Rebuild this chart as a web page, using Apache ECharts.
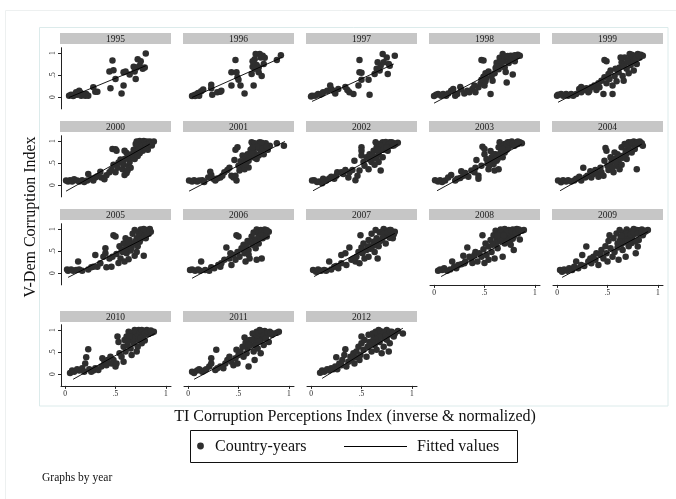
<!DOCTYPE html>
<html>
<head>
<meta charset="utf-8">
<script src="https://cdn.jsdelivr.net/npm/echarts@6/dist/echarts.min.js"></script>
<style>
  html, body { margin: 0; padding: 0; background: #ffffff; }
  #main { width: 676px; height: 499px; }
</style>
</head>
<body>
<div id="main"></div>
<script>
// Panel years, laid out five per row
const years = ['1995','1996','1997','1998','1999','2000','2001','2002','2003','2004',
               '2005','2006','2007','2008','2009','2010','2011','2012'];

// Axis ticks shared by every panel
const tickValues = [0, 0.5, 1];
const tickText = ['0', '.5', '1'];

// Country-years: [TI CPI (inverse & normalized), V-Dem corruption index]
const cy1995 = [[0.04,0.03],[0.06,0.05],[0.08,0.02],[0.09,0.04],[0.10,0.07],[0.11,0.11],[0.12,0.05],[0.13,0.08],[0.14,0.14],[0.15,0.10],[0.16,0.03],[0.18,0.07],[0.20,0.03],[0.21,0.07],[0.23,0.03],[0.28,0.22],[0.30,0.12],[0.32,0.12],[0.45,0.20],[0.44,0.58],[0.48,0.61],[0.47,0.83],[0.50,0.41],[0.56,0.08],[0.58,0.26],[0.58,0.56],[0.60,0.58],[0.64,0.51],[0.69,0.58],[0.70,0.41],[0.71,0.67],[0.72,0.86],[0.74,0.71],[0.75,0.81],[0.77,0.64],[0.79,0.67],[0.80,0.99],[0.68,0.69]];
const cy1996 = [[0.04,0.02],[0.05,0.03],[0.07,0.05],[0.09,0.07],[0.10,0.09],[0.13,0.13],[0.15,0.17],[0.07,0.02],[0.11,0.03],[0.23,0.28],[0.23,0.20],[0.24,0.05],[0.29,0.11],[0.32,0.12],[0.33,0.14],[0.43,0.26],[0.43,0.56],[0.47,0.84],[0.48,0.56],[0.49,0.45],[0.50,0.39],[0.52,0.26],[0.56,0.08],[0.63,0.52],[0.64,0.69],[0.65,0.26],[0.66,0.86],[0.67,0.98],[0.68,0.73],[0.70,0.67],[0.70,0.56],[0.71,0.98],[0.72,0.90],[0.73,0.48],[0.74,0.94],[0.75,0.75],[0.76,0.89],[0.88,0.84],[0.92,0.95],[0.66,0.64],[0.64,0.81]];
const cy1997 = [[0.00,0.01],[0.01,0.03],[0.04,0.03],[0.07,0.07],[0.09,0.05],[0.11,0.08],[0.12,0.11],[0.16,0.14],[0.19,0.26],[0.20,0.18],[0.22,0.14],[0.24,0.08],[0.27,0.18],[0.34,0.23],[0.36,0.16],[0.38,0.11],[0.42,0.07],[0.47,0.26],[0.48,0.56],[0.48,0.84],[0.50,0.39],[0.50,0.55],[0.57,0.39],[0.58,0.05],[0.63,0.52],[0.65,0.64],[0.66,0.79],[0.68,0.60],[0.69,0.71],[0.71,0.98],[0.72,0.79],[0.75,0.90],[0.76,0.52],[0.78,0.71],[0.83,0.94],[0.77,0.75]];
const cy1998 = [[0.00,0.02],[0.02,0.05],[0.04,0.07],[0.07,0.03],[0.09,0.07],[0.12,0.03],[0.14,0.08],[0.17,0.14],[0.19,0.18],[0.21,0.03],[0.23,0.07],[0.26,0.23],[0.27,0.17],[0.30,0.08],[0.33,0.14],[0.35,0.11],[0.38,0.18],[0.40,0.26],[0.41,0.11],[0.44,0.22],[0.46,0.30],[0.47,0.39],[0.47,0.84],[0.49,0.83],[0.49,0.46],[0.50,0.26],[0.51,0.36],[0.52,0.43],[0.51,0.54],[0.54,0.58],[0.56,0.07],[0.57,0.48],[0.58,0.37],[0.60,0.54],[0.61,0.66],[0.62,0.78],[0.64,0.63],[0.65,0.89],[0.66,0.71],[0.68,0.98],[0.69,0.81],[0.70,0.67],[0.71,0.57],[0.72,0.33],[0.74,0.77],[0.75,0.86],[0.76,0.94],[0.78,0.51],[0.79,0.89],[0.80,0.81],[0.82,0.92],[0.83,0.96],[0.85,0.94],[0.72,0.90],[0.70,0.92],[0.73,0.93],[0.77,0.88],[0.80,0.95],[0.67,0.80],[0.62,0.70]];
const cy1999 = [[0.00,0.03],[0.01,0.05],[0.04,0.07],[0.06,0.03],[0.09,0.07],[0.11,0.03],[0.14,0.07],[0.16,0.03],[0.19,0.07],[0.22,0.18],[0.24,0.23],[0.24,0.11],[0.27,0.16],[0.29,0.20],[0.31,0.11],[0.32,0.14],[0.34,0.22],[0.37,0.26],[0.39,0.16],[0.41,0.31],[0.42,0.22],[0.44,0.37],[0.46,0.07],[0.47,0.84],[0.49,0.81],[0.47,0.45],[0.49,0.31],[0.51,0.52],[0.52,0.41],[0.53,0.60],[0.55,0.26],[0.55,0.07],[0.57,0.48],[0.58,0.64],[0.59,0.36],[0.61,0.56],[0.62,0.67],[0.64,0.79],[0.65,0.48],[0.66,0.37],[0.67,0.90],[0.67,0.75],[0.69,0.64],[0.71,0.86],[0.71,0.54],[0.72,0.98],[0.73,0.73],[0.75,0.90],[0.76,0.81],[0.77,0.94],[0.79,0.75],[0.80,0.98],[0.82,0.90],[0.83,0.96],[0.85,0.94],[0.76,0.60],[0.63,0.90],[0.74,0.96],[0.78,0.88],[0.81,0.94],[0.70,0.80],[0.66,0.70],[0.60,0.62]];
const cy2000 = [[0.01,0.10],[0.03,0.08],[0.05,0.11],[0.07,0.08],[0.09,0.13],[0.12,0.10],[0.14,0.08],[0.17,0.11],[0.19,0.07],[0.22,0.10],[0.23,0.25],[0.26,0.15],[0.28,0.10],[0.30,0.17],[0.32,0.20],[0.35,0.30],[0.36,0.17],[0.39,0.13],[0.41,0.22],[0.44,0.29],[0.46,0.34],[0.47,0.82],[0.50,0.81],[0.51,0.78],[0.48,0.46],[0.50,0.29],[0.52,0.39],[0.53,0.51],[0.55,0.58],[0.56,0.55],[0.57,0.36],[0.58,0.46],[0.59,0.59],[0.61,0.27],[0.59,0.23],[0.63,0.43],[0.64,0.52],[0.59,0.78],[0.61,0.73],[0.66,0.63],[0.67,0.69],[0.69,0.59],[0.70,0.93],[0.71,0.99],[0.73,0.96],[0.74,1.00],[0.75,0.92],[0.77,0.96],[0.78,1.00],[0.79,0.96],[0.81,0.99],[0.83,0.95],[0.84,0.99],[0.86,0.97],[0.88,0.99],[0.82,0.80],[0.77,0.78],[0.74,0.72],[0.72,0.66],[0.71,0.86],[0.74,0.84],[0.78,0.89],[0.68,0.80],[0.65,0.39],[0.62,0.33],[0.72,0.90],[0.76,0.88],[0.80,0.91],[0.84,0.93],[0.86,0.90],[0.80,0.85],[0.70,0.76],[0.73,0.80],[0.66,0.70],[0.62,0.60],[0.57,0.50]];
const cy2001 = [[0.01,0.10],[0.04,0.08],[0.06,0.11],[0.09,0.08],[0.11,0.10],[0.14,0.11],[0.16,0.07],[0.20,0.17],[0.23,0.23],[0.22,0.30],[0.25,0.14],[0.27,0.10],[0.29,0.15],[0.32,0.17],[0.34,0.21],[0.36,0.29],[0.39,0.34],[0.41,0.39],[0.43,0.21],[0.45,0.17],[0.47,0.21],[0.46,0.57],[0.47,0.80],[0.49,0.86],[0.48,0.10],[0.50,0.44],[0.51,0.33],[0.52,0.54],[0.54,0.67],[0.55,0.44],[0.56,0.59],[0.58,0.52],[0.59,0.70],[0.60,0.40],[0.61,0.63],[0.62,0.80],[0.63,0.97],[0.65,0.78],[0.66,0.89],[0.67,0.70],[0.68,0.93],[0.70,0.84],[0.71,0.97],[0.72,0.78],[0.74,0.92],[0.75,0.70],[0.76,0.86],[0.77,0.95],[0.79,0.80],[0.81,0.89],[0.88,0.95],[0.95,0.89],[0.68,0.59],[0.70,0.67],[0.56,0.36],[0.66,0.95],[0.69,0.88],[0.73,0.96],[0.74,0.83],[0.78,0.88],[0.64,0.86],[0.63,0.72],[0.66,0.62],[0.60,0.55],[0.57,0.46]];
const cy2002 = [[0.01,0.10],[0.03,0.11],[0.06,0.07],[0.08,0.08],[0.11,0.04],[0.12,0.14],[0.15,0.10],[0.18,0.15],[0.20,0.19],[0.23,0.14],[0.25,0.21],[0.26,0.29],[0.30,0.29],[0.32,0.25],[0.34,0.34],[0.37,0.17],[0.38,0.29],[0.41,0.34],[0.43,0.55],[0.44,0.11],[0.46,0.21],[0.48,0.33],[0.50,0.86],[0.50,0.78],[0.50,0.67],[0.52,0.52],[0.53,0.44],[0.55,0.63],[0.57,0.36],[0.58,0.70],[0.60,0.52],[0.62,0.78],[0.63,0.63],[0.64,0.97],[0.65,0.86],[0.67,0.70],[0.68,0.93],[0.69,0.33],[0.69,0.80],[0.71,0.97],[0.73,0.86],[0.75,0.95],[0.76,0.78],[0.78,0.97],[0.80,0.89],[0.82,0.95],[0.84,0.93],[0.86,0.96],[0.71,0.63],[0.67,0.52],[0.63,0.46],[0.70,0.90],[0.74,0.98],[0.77,0.92],[0.80,0.97],[0.82,0.90],[0.72,0.80],[0.75,0.85],[0.66,0.80],[0.61,0.68],[0.58,0.58],[0.65,0.60]];
const cy2003 = [[0.01,0.11],[0.04,0.08],[0.06,0.11],[0.08,0.07],[0.11,0.10],[0.14,0.17],[0.17,0.23],[0.21,0.10],[0.23,0.14],[0.26,0.16],[0.27,0.31],[0.29,0.21],[0.31,0.27],[0.34,0.19],[0.37,0.33],[0.40,0.29],[0.41,0.39],[0.44,0.14],[0.44,0.21],[0.42,0.57],[0.47,0.44],[0.48,0.87],[0.50,0.82],[0.50,0.70],[0.52,0.59],[0.53,0.49],[0.54,0.36],[0.56,0.77],[0.57,0.63],[0.59,0.48],[0.60,0.33],[0.61,0.70],[0.62,0.55],[0.64,0.36],[0.64,0.86],[0.65,0.97],[0.66,0.74],[0.68,0.63],[0.69,0.89],[0.70,0.93],[0.72,0.80],[0.73,0.97],[0.74,0.86],[0.76,0.93],[0.77,0.99],[0.79,0.89],[0.80,0.95],[0.82,0.97],[0.83,0.93],[0.85,0.97],[0.87,0.95],[0.70,0.74],[0.63,0.59],[0.59,0.70],[0.72,0.92],[0.75,0.97],[0.78,0.95],[0.80,0.90],[0.83,0.99],[0.68,0.82],[0.67,0.68],[0.63,0.66],[0.61,0.60],[0.57,0.56],[0.55,0.45]];
const cy2004 = [[0.01,0.10],[0.04,0.06],[0.06,0.11],[0.09,0.08],[0.11,0.11],[0.14,0.08],[0.17,0.10],[0.19,0.14],[0.22,0.19],[0.24,0.10],[0.26,0.39],[0.28,0.17],[0.30,0.21],[0.33,0.31],[0.34,0.17],[0.36,0.25],[0.38,0.34],[0.39,0.27],[0.41,0.19],[0.43,0.39],[0.44,0.29],[0.46,0.21],[0.47,0.55],[0.48,0.84],[0.49,0.78],[0.50,0.44],[0.51,0.34],[0.53,0.63],[0.54,0.52],[0.56,0.29],[0.57,0.74],[0.57,0.59],[0.59,0.44],[0.60,0.70],[0.61,0.54],[0.62,0.36],[0.64,0.86],[0.66,0.67],[0.67,0.93],[0.68,0.78],[0.69,0.59],[0.71,0.97],[0.71,0.84],[0.73,0.93],[0.74,0.74],[0.76,0.99],[0.77,0.89],[0.79,0.97],[0.81,0.93],[0.82,0.99],[0.84,0.95],[0.85,0.89],[0.79,0.36],[0.64,0.46],[0.70,0.90],[0.74,0.97],[0.78,0.93],[0.80,0.98],[0.72,0.78],[0.69,0.72],[0.65,0.62],[0.62,0.66],[0.58,0.52],[0.55,0.40],[0.77,0.82]];
const cy2005 = [[0.02,0.08],[0.03,0.05],[0.06,0.08],[0.08,0.05],[0.11,0.07],[0.13,0.26],[0.14,0.08],[0.17,0.05],[0.23,0.08],[0.26,0.13],[0.28,0.14],[0.30,0.41],[0.32,0.14],[0.35,0.22],[0.38,0.37],[0.40,0.45],[0.40,0.56],[0.41,0.13],[0.44,0.33],[0.46,0.14],[0.47,0.37],[0.48,0.86],[0.50,0.83],[0.51,0.43],[0.53,0.23],[0.54,0.61],[0.55,0.33],[0.56,0.52],[0.58,0.67],[0.59,0.26],[0.60,0.79],[0.61,0.45],[0.62,0.61],[0.63,0.31],[0.64,0.75],[0.65,0.51],[0.67,0.89],[0.68,0.67],[0.69,0.39],[0.69,0.98],[0.71,0.79],[0.72,0.61],[0.73,0.92],[0.74,0.71],[0.75,0.99],[0.77,0.82],[0.78,0.39],[0.79,0.94],[0.80,0.79],[0.81,0.98],[0.83,0.89],[0.84,1.00],[0.85,0.94],[0.71,0.48],[0.66,0.58],[0.76,0.90],[0.79,0.86],[0.82,0.94],[0.73,0.82],[0.70,0.72],[0.66,0.66],[0.63,0.70],[0.60,0.55],[0.57,0.48],[0.75,0.77],[0.81,0.92],[0.78,1.00]];
const cy2006 = [[0.02,0.07],[0.04,0.08],[0.07,0.05],[0.10,0.08],[0.12,0.05],[0.13,0.26],[0.17,0.07],[0.21,0.05],[0.23,0.13],[0.26,0.11],[0.30,0.18],[0.32,0.14],[0.33,0.22],[0.36,0.30],[0.38,0.58],[0.41,0.33],[0.42,0.45],[0.43,0.18],[0.45,0.41],[0.47,0.30],[0.48,0.86],[0.49,0.48],[0.50,0.83],[0.51,0.37],[0.53,0.56],[0.55,0.64],[0.56,0.45],[0.57,0.26],[0.59,0.73],[0.60,0.52],[0.61,0.33],[0.63,0.83],[0.64,0.64],[0.65,0.92],[0.66,0.75],[0.67,0.56],[0.68,0.99],[0.70,0.86],[0.70,0.67],[0.72,0.98],[0.74,0.79],[0.74,0.89],[0.76,0.99],[0.78,0.83],[0.80,0.94],[0.73,0.33],[0.68,0.30],[0.70,0.93],[0.73,0.95],[0.76,0.92],[0.78,0.97],[0.72,0.86],[0.69,0.78],[0.66,0.72],[0.62,0.70],[0.58,0.60],[0.55,0.52],[0.60,0.42]];
const cy2007 = [[0.02,0.07],[0.05,0.03],[0.07,0.08],[0.10,0.05],[0.13,0.07],[0.15,0.05],[0.18,0.26],[0.20,0.08],[0.23,0.14],[0.25,0.16],[0.27,0.11],[0.30,0.41],[0.30,0.22],[0.34,0.45],[0.35,0.18],[0.38,0.58],[0.40,0.30],[0.42,0.33],[0.44,0.26],[0.45,0.37],[0.47,0.48],[0.48,0.22],[0.49,0.86],[0.50,0.58],[0.51,0.45],[0.52,0.67],[0.53,0.33],[0.55,0.52],[0.57,0.75],[0.57,0.37],[0.58,0.61],[0.60,0.89],[0.62,0.71],[0.63,0.48],[0.64,0.98],[0.65,0.79],[0.66,0.33],[0.67,0.61],[0.68,0.92],[0.70,0.75],[0.72,1.00],[0.73,0.86],[0.74,0.67],[0.75,0.96],[0.77,0.83],[0.78,0.98],[0.80,0.89],[0.81,0.79],[0.83,0.94],[0.70,0.94],[0.72,0.90],[0.76,0.92],[0.79,0.98],[0.71,0.80],[0.68,0.72],[0.64,0.70],[0.62,0.62],[0.59,0.55],[0.56,0.60],[0.78,0.80],[0.82,0.88]];
const cy2008 = [[0.04,0.05],[0.06,0.08],[0.08,0.07],[0.10,0.11],[0.13,0.05],[0.16,0.08],[0.18,0.26],[0.20,0.14],[0.22,0.11],[0.24,0.18],[0.27,0.20],[0.29,0.39],[0.30,0.22],[0.31,0.26],[0.33,0.58],[0.35,0.37],[0.37,0.33],[0.38,0.23],[0.40,0.41],[0.41,0.48],[0.43,0.26],[0.45,0.45],[0.47,0.37],[0.48,0.86],[0.49,0.54],[0.50,0.23],[0.51,0.67],[0.52,0.41],[0.54,0.60],[0.54,0.30],[0.56,0.75],[0.57,0.48],[0.59,0.86],[0.60,0.33],[0.60,0.67],[0.61,0.96],[0.62,0.79],[0.63,0.56],[0.64,0.90],[0.65,0.73],[0.66,0.99],[0.67,0.83],[0.68,0.37],[0.69,0.94],[0.70,0.67],[0.70,1.00],[0.72,0.86],[0.73,0.76],[0.74,0.98],[0.75,0.90],[0.76,0.64],[0.78,0.99],[0.79,0.83],[0.80,0.94],[0.82,1.00],[0.83,0.90],[0.85,0.76],[0.87,0.96],[0.89,0.98],[0.79,0.52],[0.68,0.90],[0.71,0.93],[0.76,0.96],[0.80,0.98],[0.77,0.90],[0.74,0.82],[0.71,0.78],[0.68,0.80],[0.65,0.84],[0.62,0.70],[0.58,0.64],[0.84,0.95],[0.66,0.92],[0.70,0.88],[0.73,0.93],[0.77,0.95],[0.81,0.92],[0.84,0.99],[0.72,0.70],[0.75,0.74],[0.78,0.78],[0.66,0.77],[0.63,0.86],[0.69,0.85]];
const cy2009 = [[0.03,0.07],[0.05,0.03],[0.07,0.08],[0.10,0.05],[0.12,0.11],[0.15,0.07],[0.17,0.14],[0.19,0.26],[0.21,0.11],[0.24,0.18],[0.25,0.41],[0.27,0.16],[0.29,0.60],[0.31,0.26],[0.33,0.33],[0.34,0.22],[0.36,0.37],[0.38,0.30],[0.39,0.45],[0.41,0.18],[0.43,0.41],[0.44,0.52],[0.46,0.33],[0.48,0.61],[0.49,0.45],[0.50,0.26],[0.51,0.73],[0.52,0.86],[0.53,0.56],[0.55,0.37],[0.56,0.79],[0.57,0.48],[0.59,0.90],[0.60,0.67],[0.61,0.30],[0.62,0.98],[0.63,0.79],[0.65,0.52],[0.66,0.92],[0.67,0.73],[0.68,0.37],[0.69,0.99],[0.70,0.83],[0.71,0.61],[0.72,0.94],[0.74,0.79],[0.76,1.00],[0.77,0.89],[0.78,0.45],[0.79,0.98],[0.81,0.75],[0.82,0.94],[0.84,0.99],[0.85,0.86],[0.87,0.96],[0.90,0.98],[0.80,0.60],[0.67,0.86],[0.71,0.92],[0.74,0.95],[0.78,0.93],[0.81,0.97],[0.75,0.85],[0.72,0.78],[0.68,0.70],[0.64,0.66],[0.60,0.58],[0.83,0.90],[0.86,0.92],[0.66,0.80],[0.69,0.90],[0.73,0.88],[0.76,0.92],[0.80,0.90],[0.84,0.93],[0.70,0.72],[0.74,0.68],[0.78,0.72],[0.64,0.84],[0.62,0.72],[0.88,0.95]];
const cy2010 = [[0.05,0.02],[0.07,0.08],[0.09,0.05],[0.12,0.11],[0.14,0.08],[0.17,0.13],[0.19,0.05],[0.20,0.24],[0.21,0.38],[0.23,0.56],[0.24,0.11],[0.26,0.05],[0.28,0.08],[0.30,0.13],[0.33,0.09],[0.36,0.17],[0.37,0.36],[0.39,0.28],[0.41,0.20],[0.42,0.32],[0.45,0.39],[0.46,0.24],[0.48,0.32],[0.50,0.17],[0.51,0.24],[0.52,0.85],[0.53,0.73],[0.54,0.47],[0.56,0.39],[0.58,0.28],[0.58,0.62],[0.59,0.77],[0.60,0.51],[0.61,0.85],[0.62,0.66],[0.63,0.96],[0.64,0.77],[0.65,0.58],[0.67,0.89],[0.68,0.70],[0.69,1.00],[0.69,0.81],[0.71,0.92],[0.72,0.62],[0.73,1.00],[0.73,0.77],[0.74,0.89],[0.75,0.96],[0.76,0.70],[0.77,0.85],[0.78,0.98],[0.79,0.89],[0.80,0.94],[0.81,1.00],[0.83,0.91],[0.84,0.96],[0.86,0.94],[0.88,0.96],[0.79,0.76],[0.71,0.51],[0.66,0.43],[0.66,0.94],[0.70,0.96],[0.74,0.93],[0.76,1.00],[0.79,0.92],[0.82,0.97],[0.70,0.84],[0.67,0.80],[0.64,0.85],[0.62,0.74],[0.75,0.82],[0.85,0.99]];
const cy2011 = [[0.04,0.05],[0.06,0.02],[0.09,0.08],[0.11,0.11],[0.14,0.05],[0.16,0.08],[0.18,0.11],[0.21,0.17],[0.23,0.24],[0.23,0.36],[0.27,0.09],[0.28,0.55],[0.29,0.13],[0.32,0.17],[0.35,0.13],[0.37,0.24],[0.39,0.32],[0.41,0.39],[0.43,0.28],[0.45,0.20],[0.47,0.36],[0.48,0.55],[0.49,0.24],[0.50,0.43],[0.52,0.51],[0.54,0.62],[0.55,0.39],[0.56,0.83],[0.57,0.71],[0.58,0.47],[0.59,0.58],[0.60,0.17],[0.61,0.77],[0.62,0.66],[0.64,0.92],[0.65,0.51],[0.66,0.81],[0.67,0.70],[0.68,0.96],[0.69,0.58],[0.70,0.85],[0.71,1.00],[0.72,0.77],[0.74,0.91],[0.75,0.66],[0.76,0.98],[0.77,0.85],[0.78,0.92],[0.80,0.73],[0.81,0.96],[0.83,0.89],[0.84,0.92],[0.88,0.94],[0.90,0.96],[0.72,0.47],[0.66,0.32],[0.68,0.88],[0.70,0.93],[0.73,0.97],[0.75,0.88],[0.79,0.95],[0.82,0.93],[0.71,0.74],[0.67,0.64],[0.63,0.78],[0.60,0.66],[0.77,0.80]];
const cy2012 = [[0.09,0.03],[0.11,0.08],[0.13,0.05],[0.16,0.11],[0.18,0.08],[0.20,0.13],[0.22,0.11],[0.24,0.17],[0.25,0.38],[0.26,0.11],[0.28,0.24],[0.30,0.20],[0.31,0.32],[0.33,0.43],[0.34,0.56],[0.35,0.17],[0.37,0.28],[0.39,0.39],[0.40,0.32],[0.42,0.47],[0.43,0.24],[0.44,0.38],[0.45,0.51],[0.47,0.62],[0.48,0.32],[0.49,0.43],[0.50,0.85],[0.50,0.70],[0.52,0.55],[0.53,0.77],[0.55,0.39],[0.56,0.62],[0.57,0.89],[0.58,0.73],[0.60,0.51],[0.61,0.92],[0.62,0.81],[0.63,0.66],[0.64,0.96],[0.65,0.55],[0.66,0.85],[0.67,1.00],[0.68,0.73],[0.70,0.91],[0.72,0.62],[0.73,0.96],[0.73,0.81],[0.75,1.00],[0.77,0.89],[0.78,0.70],[0.80,0.96],[0.82,0.85],[0.83,0.92],[0.86,0.98],[0.91,0.92],[0.77,0.51],[0.70,0.47],[0.66,0.93],[0.69,0.97],[0.72,0.93],[0.74,0.88],[0.78,0.96],[0.81,0.93],[0.68,0.84],[0.64,0.78],[0.61,0.72],[0.58,0.66],[0.75,0.78]];

// Fitted values: start and end of each year's regression line
const fit1995 = [[0.04,-0.01],[0.80,0.71]];
const fit1996 = [[0.04,-0.01],[0.93,0.90]];
const fit1997 = [[0.01,-0.10],[0.82,0.75]];
const fit1998 = [[0.00,-0.14],[0.85,0.89]];
const fit1999 = [[0.01,-0.12],[0.84,0.86]];
const fit2000 = [[0.01,-0.14],[0.84,0.93]];
const fit2001 = [[0.01,-0.14],[0.96,0.99]];
const fit2002 = [[0.02,-0.13],[0.86,0.93]];
const fit2003 = [[0.03,-0.13],[0.87,0.93]];
const fit2004 = [[0.03,-0.13],[0.84,0.93]];
const fit2005 = [[0.03,-0.10],[0.85,0.86]];
const fit2006 = [[0.04,-0.12],[0.80,0.83]];
const fit2007 = [[0.03,-0.08],[0.83,0.90]];
const fit2008 = [[0.07,-0.08],[0.90,0.94]];
const fit2009 = [[0.05,-0.10],[0.90,0.94]];
const fit2010 = [[0.08,-0.12],[0.89,0.92]];
const fit2011 = [[0.06,-0.12],[0.89,0.89]];
const fit2012 = [[0.11,-0.10],[0.91,1.04]];

const countryYears = [cy1995, cy1996, cy1997, cy1998, cy1999, cy2000, cy2001, cy2002, cy2003,
  cy2004, cy2005, cy2006, cy2007, cy2008, cy2009, cy2010, cy2011, cy2012];
const fittedLines = [fit1995, fit1996, fit1997, fit1998, fit1999, fit2000, fit2001, fit2002, fit2003,
  fit2004, fit2005, fit2006, fit2007, fit2008, fit2009, fit2010, fit2011, fit2012];

// ---- layout of the 5 x 4 panel grid ----
const SERIF = "'Liberation Serif', 'DejaVu Serif', serif";
const colLeft = 61, colStep = 123, plotW = 110;
const stripTops = [33, 121, 209, 311];
const yOneAt = [53, 141, 229, 330];      // pixel row of y = 1 in each panel row
const pxPerUnitY = 44;
const yMin = -0.27, yMax = 1.12;
const xMin = -0.04, xMax = 1.05;
const markerColor = '#2e2e2e';
// panels that carry an x axis (bottom of each column)
const withXAxis = new Set([13, 14, 15, 16, 17]);

const grids = [], xAxes = [], yAxes = [], series = [], graphics = [];

years.forEach((yr, i) => {
  const row = Math.floor(i / 5), col = i % 5;
  const left = colLeft + col * colStep;
  const top = yOneAt[row] - (yMax - 1) * pxPerUnitY;
  const height = (yMax - yMin) * pxPerUnitY;
  grids.push({ left: left, top: top, width: plotW, height: height, containLabel: false });

  const showX = withXAxis.has(i);
  xAxes.push({
    gridIndex: i, type: 'value', min: xMin, max: xMax, show: showX,
    splitLine: { show: false },
    axisLine: { show: showX, onZero: false, lineStyle: { color: '#222', width: 1 } },
    axisTick: { show: showX, customValues: tickValues, length: 3, lineStyle: { color: '#222' } },
    axisLabel: {
      show: showX, customValues: tickValues, margin: 4,
      fontFamily: SERIF, fontSize: 7.5, color: '#222',
      formatter: v => tickText[tickValues.indexOf(v)] ?? ''
    }
  });

  const showY = col === 0;
  yAxes.push({
    gridIndex: i, type: 'value', min: yMin, max: yMax, show: showY,
    splitLine: { show: false },
    axisLine: { show: showY, onZero: false, lineStyle: { color: '#222', width: 1 } },
    axisTick: { show: showY, customValues: tickValues, length: 3, lineStyle: { color: '#222' } },
    axisLabel: {
      show: showY, customValues: tickValues, rotate: 90, margin: 4,
      fontFamily: SERIF, fontSize: 7.5, color: '#222',
      formatter: v => tickText[tickValues.indexOf(v)] ?? ''
    }
  });

  series.push({
    name: 'Country-years', type: 'scatter', xAxisIndex: i, yAxisIndex: i,
    data: countryYears[i], symbol: 'circle', symbolSize: 6.5,
    itemStyle: { color: markerColor, opacity: 1 }, z: 2
  });
  series.push({
    name: 'Fitted values', type: 'line', xAxisIndex: i, yAxisIndex: i,
    data: fittedLines[i], showSymbol: false, symbol: 'none',
    lineStyle: { color: '#000', width: 0.9 }, z: 3
  });

  // year strip above the panel
  graphics.push({
    type: 'rect', silent: true,
    shape: { x: left - 1, y: stripTops[row], width: 111, height: 11 },
    style: { fill: '#c6c6c6' }
  });
  graphics.push({
    type: 'text', silent: true,
    style: {
      text: yr, x: left - 1 + 55.5, y: stripTops[row] + 6, align: 'center', verticalAlign: 'middle',
      font: '9.5px ' + SERIF, fill: '#222'
    }
  });
});

// outer frame and plot-region box
graphics.unshift(
  { type: 'rect', silent: true, z: -10, shape: { x: 5.5, y: 10.5, width: 700, height: 520 },
    style: { fill: 'none', stroke: '#edf0f0', lineWidth: 1 } },
  { type: 'rect', silent: true, z: -10, shape: { x: 39.5, y: 27.5, width: 628.5, height: 378.5 },
    style: { fill: 'none', stroke: '#dcebeb', lineWidth: 1 } }
);

// axis titles
graphics.push(
  { type: 'text', silent: true, rotation: Math.PI / 2, x: 31, y: 217,
    style: { text: 'V-Dem Corruption Index', x: 0, y: 0, align: 'center', verticalAlign: 'middle',
             font: '16px ' + SERIF, fill: '#111' } },
  { type: 'text', silent: true,
    style: { text: 'TI Corruption Perceptions Index (inverse & normalized)', x: 355, y: 417,
             align: 'center', verticalAlign: 'middle', font: '16px ' + SERIF, fill: '#111' } }
);

// legend box
graphics.push(
  { type: 'rect', silent: true, shape: { x: 190.5, y: 430.5, width: 327, height: 32 },
    style: { fill: '#fff', stroke: '#111', lineWidth: 1 } },
  { type: 'circle', silent: true, shape: { cx: 200.5, cy: 446, r: 3.4 }, style: { fill: markerColor } },
  { type: 'text', silent: true,
    style: { text: 'Country-years', x: 215, y: 447, verticalAlign: 'middle', font: '16px ' + SERIF, fill: '#111' } },
  { type: 'line', silent: true, shape: { x1: 344, y1: 446.5, x2: 407, y2: 446.5 }, style: { stroke: '#000', lineWidth: 1 } },
  { type: 'text', silent: true,
    style: { text: 'Fitted values', x: 417, y: 447, verticalAlign: 'middle', font: '16px ' + SERIF, fill: '#111' } },
  { type: 'text', silent: true,
    style: { text: 'Graphs by year', x: 42, y: 478, verticalAlign: 'middle', font: '11.5px ' + SERIF, fill: '#111' } }
);

const chart = echarts.init(document.getElementById('main'));
chart.setOption({
  animation: false,
  backgroundColor: '#ffffff',
  grid: grids,
  xAxis: xAxes,
  yAxis: yAxes,
  series: series,
  graphic: { elements: graphics }
});
</script>
</body>
</html>
